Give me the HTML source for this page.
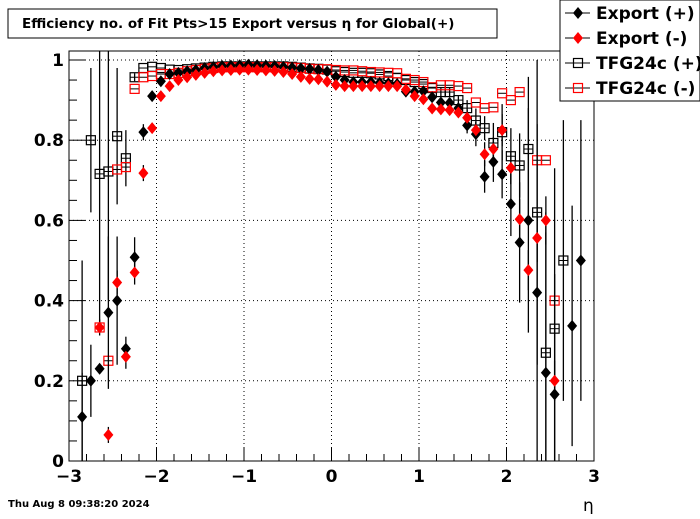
<!DOCTYPE html>
<html><head><meta charset="utf-8"><style>
html,body{margin:0;padding:0;background:#fff;}
svg text{font-family:"DejaVu Sans","Liberation Sans",sans-serif;}
</style></head><body>
<svg id="chart" width="700" height="514" xmlns="http://www.w3.org/2000/svg">
<rect width="700" height="514" fill="#fff"/>
<g id="grid"></g>
<g id="axes"></g>
<g id="marks"></g>
<rect x="8" y="9" width="489" height="29" fill="#fff" stroke="#000"/>
<text x="22" y="28" font-size="13.5" font-weight="bold">Efficiency no. of Fit Pts&gt;15 Export versus η for Global(+)</text>
<text x="8" y="507" font-size="10" font-weight="bold">Thu Aug  8 09:38:20 2024</text>
<text x="583" y="511" font-size="17">η</text>
<g id="legend">
<rect x="560" y="0" width="140" height="101" fill="#fff" stroke="#000"/>
</g>
</svg>
<script>
const etaCenters=[-2.85,-2.75,-2.65,-2.55,-2.45,-2.35,-2.25,-2.15,-2.05,-1.95,-1.85,-1.75,-1.65,-1.55,-1.45,-1.35,-1.25,-1.15,-1.05,-0.95,-0.85,-0.75,-0.65,-0.55,-0.45,-0.35,-0.25,-0.15,-0.05,0.05,0.15,0.25,0.35,0.45,0.55,0.65,0.75,0.85,0.95,1.05,1.15,1.25,1.35,1.45,1.55,1.65,1.75,1.85,1.95,2.05,2.15,2.25,2.35,2.45,2.55,2.65,2.75,2.85];
const exportPlus=[.11,.20,.23,.37,.40,.28,.508,.82,.91,.947,.965,.968,.972,.975,.98,.983,.985,.986,.987,.988,.987,.986,.985,.983,.981,.979,.978,.975,.971,.958,.95,.945,.945,.945,.943,.942,.94,.921,.921,.922,.907,.894,.893,.88,.837,.815,.709,.746,.715,.641,.545,.60,.42,.22,.166,null,.337,.50];
const exportPlusErr=[.11,.09,0,.19,.16,.03,.05,.02,.01,0,0,0,0,0,0,0,0,0,0,0,0,0,0,0,0,0,0,0,0,0,0,0,0,0,0,0,0,0,0,0,.01,.01,.01,.01,.02,.03,.04,.05,.06,.08,.15,.28,.42,.35,.3,0,.3,.35];
const exportMinus=[null,null,.333,.065,.445,.26,.47,.718,.83,.91,.935,.95,.957,.963,.968,.972,.974,.975,.976,.976,.975,.974,.973,.97,.965,.958,.953,.952,.946,.938,.935,.935,.935,.935,.935,.935,.935,.926,.91,.902,.879,.877,.875,.869,.856,.825,.765,.778,.825,.731,.603,.476,.556,.60,.20,null,null,null];
const exportMinusErr=[0,0,.02,.02,.03,.03,.03,.02,.01,0,0,0,0,0,0,0,0,0,0,0,0,0,0,0,0,0,0,0,0,0,0,0,0,0,0,0,0,0,0,0,.01,.01,.01,.01,.02,.02,.03,.03,.04,.04,.05,.05,.06,.06,.05,0,0,0];
const tfgPlus=[.20,.80,.716,.722,.81,.755,.957,.98,.983,.98,.976,.975,.977,.979,.981,.983,.984,.984,.984,.984,.984,.984,.984,.984,.983,.981,.979,.978,.976,.972,.97,.968,.968,.967,.964,.96,.955,.95,.945,.94,.93,.92,.92,.90,.88,.849,.83,.793,.82,.76,.737,.778,.62,.27,.33,.50,null,null];
const tfgPlusErr=[.3,.18,.38,.32,.17,.07,.01,0,0,0,0,0,0,0,0,0,0,0,0,0,0,0,0,0,0,0,0,0,0,0,0,0,0,0,0,0,0,0,0,0,0,.01,.01,.01,.02,.03,.03,.05,.07,.07,.08,.18,.38,.35,.4,.35,0,0];
const tfgMinus=[null,null,.333,.25,.727,.733,.928,.957,.96,.965,.965,.968,.972,.975,.978,.98,.982,.982,.982,.982,.982,.982,.982,.982,.981,.98,.978,.977,.977,.975,.974,.974,.972,.970,.969,.968,.967,.953,.95,.945,.932,.937,.937,.935,.93,.894,.88,.882,.917,.90,.92,null,.75,.75,.40,null,null,null];
const xTicks=[-3,-2,-1,0,1,2,3];
const xTickLabels=["−3","−2","−1","0","1","2","3"];
const yTicks=[0,0.2,0.4,0.6,0.8,1];
const yTickLabels=["0","0.2","0.4","0.6","0.8","1"];

const NS="http://www.w3.org/2000/svg";
const L=69,R=594,T=51,B=461;
const xMin=-3,xMax=3,yMin=0,yMax=(B-T)/401;
function sx(v){return L+(v-xMin)/(xMax-xMin)*(R-L);}
function sy(v){return B-(v-yMin)/(yMax-yMin)*(B-T);}
function mk(tag,attrs,parent){const e=document.createElementNS(NS,tag);for(const k in attrs)e.setAttribute(k,attrs[k]);parent.appendChild(e);return e;}
const grid=document.getElementById('grid'),axes=document.getElementById('axes'),marks=document.getElementById('marks'),legend=document.getElementById('legend');

xTicks.forEach((t,i)=>{
  if(t>xMin&&t<xMax){const g=mk('line',{x1:sx(t),x2:sx(t),y1:T,y2:B,stroke:'#000','stroke-dasharray':'1,3'},grid);
  
  }
  const tl=mk('text',{x:sx(t),y:482,'font-size':17,'font-weight':'bold','text-anchor':'middle'},axes);
  tl.textContent=xTickLabels[i];
  
  
});
yTicks.forEach((t,i)=>{
  if(t>yMin){const g=mk('line',{x1:L,x2:R,y1:sy(t),y2:sy(t),stroke:'#000','stroke-dasharray':'1,3'},grid);
  
  }
  const tl=mk('text',{x:64,y:sy(t)+6,'font-size':17,'font-weight':'bold','text-anchor':'end'},axes);
  tl.textContent=yTickLabels[i];
  
  
});
// minor ticks
for(let v=-3;v<=3.0001;v+=0.2){const big=Math.abs(v-Math.round(v))<1e-6;
  mk('line',{x1:sx(v),x2:sx(v),y1:B,y2:B-(big?14:7),stroke:'#000'},axes);}
for(let v=0;v<=1.0001;v+=0.05){const big=Math.abs(v*5-Math.round(v*5))<1e-6;
  mk('line',{x1:L,x2:L+(big?16:8),y1:sy(v),y2:sy(v),stroke:'#000'},axes);}
const frame=mk('rect',{x:L,y:T,width:R-L,height:B-T,fill:'none',stroke:'#000'},axes);



function drawMarker(kind,color,x,y,parent){
  if(kind==='diamond'){
    return mk('polygon',{points:`${x},${y-6} ${x+5},${y} ${x},${y+6} ${x-5},${y}`,fill:color},parent);
  } else {
    return mk('rect',{x:x-4.5,y:y-4.5,width:9,height:9,fill:'none',stroke:color,'stroke-width':1.2},parent);
  }
}
function series(name,vals,errs,kind,color){
  const g=mk('g',{},marks);
  
  
  vals.forEach((v,i)=>{
    if(v===null)return;
    const x=sx(etaCenters[i]),y=sy(v);
    const e=errs?errs[i]:0;
    if(e>0){
      const lo=Math.max(0,v-e),hi=Math.min(yMax,v+e);
      const b=mk('line',{x1:x,x2:x,y1:sy(lo),y2:sy(hi),stroke:'#000','stroke-width':1.3},g);
      
      
    }
    mk('line',{x1:x-4.4,x2:x+4.4,y1:y,y2:y,stroke:'#000','stroke-width':1},g);
    const m=drawMarker(kind,color,x,y,g);
    
    
  });
}
series('series-tfg24c-plus',tfgPlus,tfgPlusErr,'square','#000');
series('series-tfg24c-minus',tfgMinus,null,'square','#f00');
series('series-export-plus',exportPlus,exportPlusErr,'diamond','#000');
series('series-export-minus',exportMinus,exportMinusErr,'diamond','#f00');

const legItems=[["Export (+)","diamond","#000"],["Export (-)","diamond","#f00"],["TFG24c (+)","square","#000"],["TFG24c (-)","square","#f00"]];
legItems.forEach((it,i)=>{
  const y=13+i*25;
  const g=mk('g',{},legend);
  
  
  mk('line',{x1:565,x2:590,y1:y,y2:y,stroke:'#000'},g);
  drawMarker(it[1],it[2],578,y,g);
  const t=mk('text',{x:596,y:y+6,'font-size':17,'font-weight':'bold'},g);
  t.textContent=it[0];
});
</script>
</body></html>
